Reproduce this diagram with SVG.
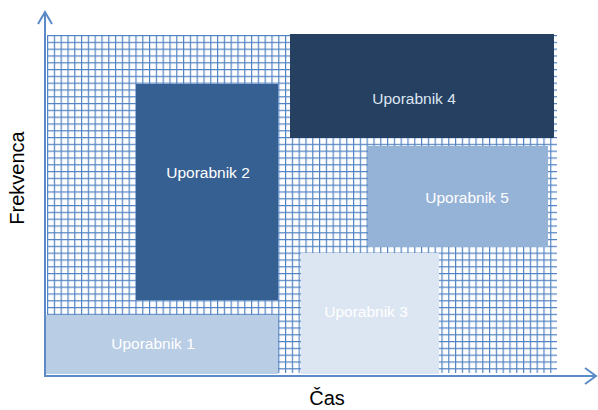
<svg xmlns="http://www.w3.org/2000/svg" width="598" height="410" viewBox="0 0 598 410">
<defs>
<pattern id="grid" x="47" y="35" width="6.8" height="6.8" patternUnits="userSpaceOnUse">
<path d="M0.6 0V6.8M0 0.6H6.8" stroke="#5283c2" stroke-width="1.2" fill="none"/>
</pattern>
<style>
.lbl{font-family:"Liberation Sans",Arial,sans-serif;font-size:15.5px;text-anchor:middle;dominant-baseline:central}
.axl{font-family:"Liberation Sans",Arial,sans-serif;font-size:20px;fill:#000;text-anchor:middle}
.ax{stroke:#5b8ac6;stroke-width:2;fill:none}
</style>
</defs>
<rect x="47" y="35" width="510" height="338" fill="url(#grid)"/>
<g id="axes">
<path class="ax" d="M45 13V376H595"/>
<path class="ax" d="M38 24L45 12L52 24"/>
<path class="ax" d="M585 368L596 376L585 384"/>
</g>
<g id="u1"><rect x="46" y="315" width="232" height="59" fill="#b9cde5"/><text class="lbl" x="153" y="343" fill="#fff">Uporabnik 1</text></g>
<g id="u2"><rect x="136" y="84" width="142" height="216" fill="#376092"/><text class="lbl" x="208" y="172" fill="#fff">Uporabnik 2</text></g>
<g id="u3"><rect x="301" y="253" width="138" height="121" fill="#dce6f2"/><text class="lbl" x="366" y="311" fill="#fff">Uporabnik 3</text></g>
<g id="u4"><rect x="290" y="34" width="264" height="104" fill="#264061"/><text class="lbl" x="414" y="98" fill="#dce6f2">Uporabnik 4</text></g>
<g id="u5"><rect x="368" y="146" width="180" height="101" fill="#95b3d7"/><text class="lbl" x="467" y="197" fill="#fff">Uporabnik 5</text></g>
<text class="axl" x="327" y="405">Čas</text>
<text class="axl" transform="translate(24,178) rotate(-90)">Frekvenca</text>
</svg>
